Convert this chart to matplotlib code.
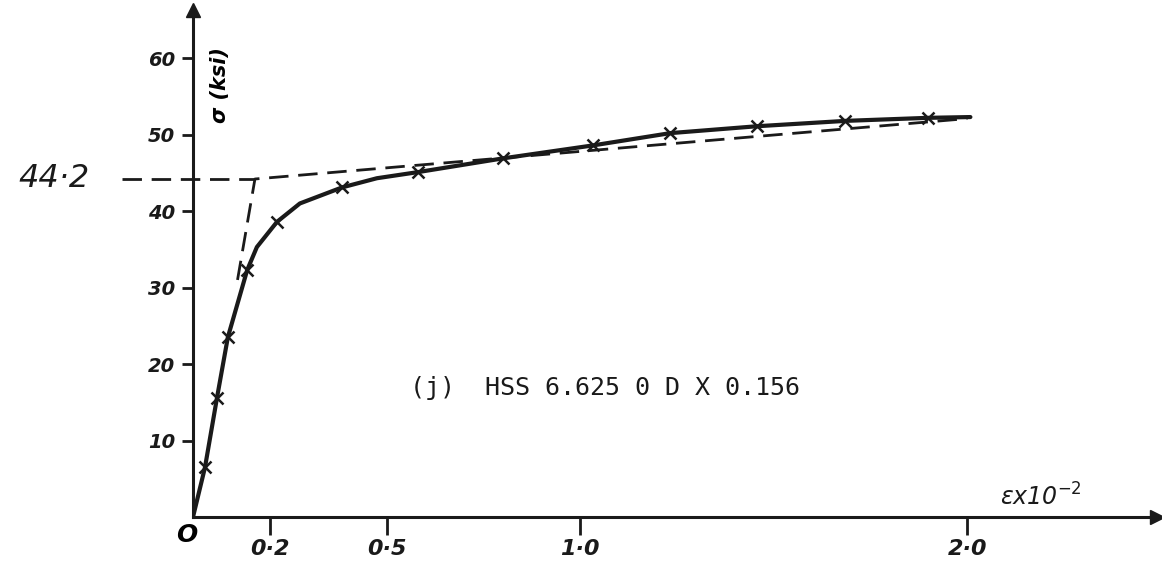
import matplotlib
matplotlib.use("Agg")
import matplotlib.pyplot as plt

# test points (crosses): strain x 10^-2, stress ksi
test_strain = [0.031, 0.062, 0.090, 0.140, 0.217, 0.385, 0.581, 0.801, 1.034, 1.233, 1.457, 1.685, 1.899]
test_stress = [6.5, 15.6, 23.5, 32.3, 38.6, 43.1, 45.1, 46.9, 48.6, 50.2, 51.1, 51.8, 52.2]

# hand-drawn smooth curve
curve_strain = [0.0, 0.031, 0.062, 0.090, 0.140, 0.165, 0.217, 0.276, 0.385, 0.475, 0.581,
                0.801, 1.034, 1.233, 1.457, 1.685, 1.899, 2.008]
curve_stress = [0.0, 6.5, 15.6, 23.5, 32.3, 35.3, 38.6, 41.0, 43.1, 44.3, 45.1,
                46.9, 48.6, 50.2, 51.1, 51.8, 52.2, 52.3]

# bilinear idealisation (dashed)
yield_stress = 44.2
bilin_strain = [0.115, 0.160, 2.0]
bilin_stress = [31.0, 44.2, 52.1]

yticks = [10, 20, 30, 40, 50, 60]
xticks = [0.2, 0.5, 1.0, 2.0]
xticklabels = ["0·2", "0·5", "1·0", "2·0"]

W, H = 1162, 568
fig = plt.figure(figsize=(W / 100, H / 100), dpi=100)
x0, y0, x1, y1 = 193, 517, 1157, 10
ax = fig.add_axes([x0 / W, (H - y0) / H, (x1 - x0) / W, (y0 - y1) / H])
ax.set_xlim(0, 2.49)
ax.set_ylim(0, 66.3)

for s in ["top", "right"]:
    ax.spines[s].set_visible(False)
for s in ["left", "bottom"]:
    ax.spines[s].set_linewidth(2.2)
    ax.spines[s].set_color("#1a1a1a")
ax.plot(1, 0, ">", color="#1a1a1a", ms=10, transform=ax.get_yaxis_transform(), clip_on=False)
ax.plot(0, 1, "^", color="#1a1a1a", ms=10, transform=ax.get_xaxis_transform(), clip_on=False)

hand = dict(family="DejaVu Sans", style="italic", weight="bold")
ax.set_yticks(yticks)
ax.set_yticklabels([str(v) for v in yticks], fontsize=14, **hand)
ax.set_xticks(xticks)
ax.set_xticklabels(xticklabels, fontsize=16, **hand)
ax.tick_params(axis="y", length=8, width=2, pad=5, colors="#1a1a1a")
ax.tick_params(axis="x", length=13, width=2, pad=3, colors="#1a1a1a")

# dashed bilinear lines
ax.plot([-0.183, bilin_strain[1]], [yield_stress, yield_stress], color="#1a1a1a",
        lw=2, dashes=(7, 3.5), clip_on=False)
ax.plot(bilin_strain, bilin_stress, color="#1a1a1a", lw=2, dashes=(7, 3.5))

# test curve
ax.plot(curve_strain, curve_stress, color="#1a1a1a", lw=3, solid_capstyle="round")
ax.plot(test_strain, test_stress, "x", color="#1a1a1a", ms=9, mew=1.8)

ax.text(-0.015, -2.4, "O", fontsize=18, ha="center", va="center", clip_on=False, **hand)
ax.text(-0.36, yield_stress, "44·2", fontsize=23, style="italic", ha="center", va="center",
        color="#1a1a1a", clip_on=False)
ax.text(0.07, 56.5, "σ (ksi)", fontsize=15, rotation=90, ha="center", va="center", **hand)
ax.text(2.19, 2.6, r"εx10$^{-2}$", fontsize=17, style="italic", ha="center", va="center",
        color="#1a1a1a")
ax.text(0.56, 16.9, "(j)  HSS 6.625 0 D X 0.156", fontsize=18, family="DejaVu Sans Mono",
        ha="left", va="center", color="#1a1a1a")

fig.savefig("out.png", dpi=100, facecolor="white")
